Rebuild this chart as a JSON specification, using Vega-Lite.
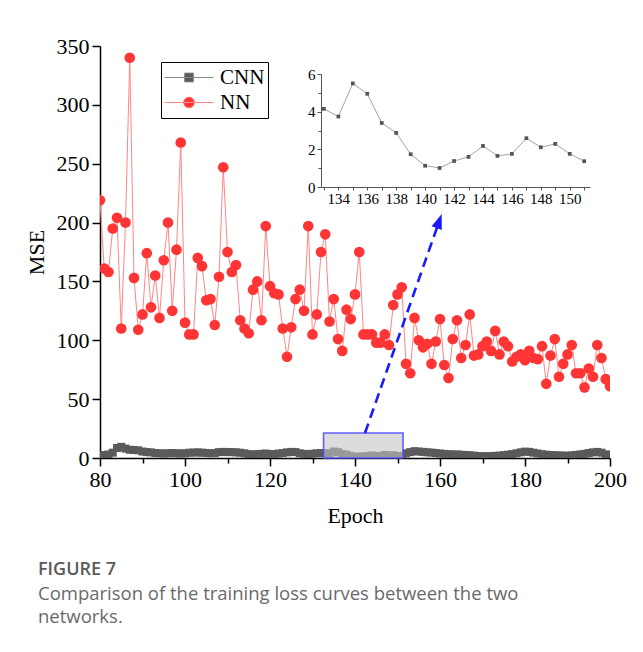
{
  "$schema": "https://vega.github.io/schema/vega-lite/v6.json",
  "width": 510,
  "height": 412,
  "autosize": {"type": "none"},
  "padding": {"left": 100, "top": 46, "right": 33, "bottom": 194},
  "background": "white",
  "config": {
    "view": {"stroke": null},
    "font": "Liberation Serif",
    "axis": {
      "grid": false,
      "domainColor": "black",
      "domainWidth": 1.5,
      "tickColor": "black",
      "tickWidth": 1.5,
      "labelFont": "Liberation Serif",
      "labelColor": "black",
      "labelFlush": false,
      "labelOverlap": false,
      "titleFont": "Liberation Serif",
      "titleFontWeight": "normal",
      "titleColor": "black",
      "zindex": 1
    }
  },
  "title": {
    "text": "FIGURE 7",
    "subtitle": ["Comparison of the training loss curves between the two", "networks."],
    "orient": "bottom",
    "anchor": "start",
    "frame": "group",
    "dx": -62,
    "offset": 35,
    "font": "Open Sans",
    "fontSize": 18,
    "fontWeight": 600,
    "color": "#5a5a5a",
    "subtitleFont": "Open Sans",
    "subtitleFontSize": 18.5,
    "subtitleFontWeight": "normal",
    "subtitleColor": "#6a6a6a",
    "subtitleLineHeight": 23,
    "subtitlePadding": 6
  },
  "datasets": {
    "loss": [
      {"epoch": 80, "NN": 219, "CNN": 2.0},
      {"epoch": 81, "NN": 161, "CNN": 2.5},
      {"epoch": 82, "NN": 158, "CNN": 3.0},
      {"epoch": 83, "NN": 195, "CNN": 4.5},
      {"epoch": 84, "NN": 204, "CNN": 8.5},
      {"epoch": 85, "NN": 110, "CNN": 9.5},
      {"epoch": 86, "NN": 200, "CNN": 8.0},
      {"epoch": 87, "NN": 340, "CNN": 7.0},
      {"epoch": 88, "NN": 153, "CNN": 6.8},
      {"epoch": 89, "NN": 109, "CNN": 6.5},
      {"epoch": 90, "NN": 122, "CNN": 5.5},
      {"epoch": 91, "NN": 174, "CNN": 5.0},
      {"epoch": 92, "NN": 128, "CNN": 4.8},
      {"epoch": 93, "NN": 155, "CNN": 4.2},
      {"epoch": 94, "NN": 119, "CNN": 4.0},
      {"epoch": 95, "NN": 168, "CNN": 3.8},
      {"epoch": 96, "NN": 200, "CNN": 4.0},
      {"epoch": 97, "NN": 125, "CNN": 4.2},
      {"epoch": 98, "NN": 177, "CNN": 4.0},
      {"epoch": 99, "NN": 268, "CNN": 3.8},
      {"epoch": 100, "NN": 115, "CNN": 4.0},
      {"epoch": 101, "NN": 105, "CNN": 4.5},
      {"epoch": 102, "NN": 105, "CNN": 4.6},
      {"epoch": 103, "NN": 170, "CNN": 4.8},
      {"epoch": 104, "NN": 163, "CNN": 4.5},
      {"epoch": 105, "NN": 134, "CNN": 4.3},
      {"epoch": 106, "NN": 135, "CNN": 4.0},
      {"epoch": 107, "NN": 113, "CNN": 4.2},
      {"epoch": 108, "NN": 154, "CNN": 5.0},
      {"epoch": 109, "NN": 247, "CNN": 5.2},
      {"epoch": 110, "NN": 175, "CNN": 5.0},
      {"epoch": 111, "NN": 158, "CNN": 5.0},
      {"epoch": 112, "NN": 164, "CNN": 4.8},
      {"epoch": 113, "NN": 117, "CNN": 4.5},
      {"epoch": 114, "NN": 110, "CNN": 4.0},
      {"epoch": 115, "NN": 106, "CNN": 3.2},
      {"epoch": 116, "NN": 143, "CNN": 3.0},
      {"epoch": 117, "NN": 150, "CNN": 3.3},
      {"epoch": 118, "NN": 117, "CNN": 3.5},
      {"epoch": 119, "NN": 197, "CNN": 3.8},
      {"epoch": 120, "NN": 146, "CNN": 3.4},
      {"epoch": 121, "NN": 140, "CNN": 3.2},
      {"epoch": 122, "NN": 139, "CNN": 3.8},
      {"epoch": 123, "NN": 110, "CNN": 4.2},
      {"epoch": 124, "NN": 86, "CNN": 4.8},
      {"epoch": 125, "NN": 111, "CNN": 5.2},
      {"epoch": 126, "NN": 135, "CNN": 5.0},
      {"epoch": 127, "NN": 143, "CNN": 4.0},
      {"epoch": 128, "NN": 125, "CNN": 3.5},
      {"epoch": 129, "NN": 197, "CNN": 3.3},
      {"epoch": 130, "NN": 105, "CNN": 3.6},
      {"epoch": 131, "NN": 122, "CNN": 4.0},
      {"epoch": 132, "NN": 175, "CNN": 4.2},
      {"epoch": 133, "NN": 190, "CNN": 4.15},
      {"epoch": 134, "NN": 116, "CNN": 3.74},
      {"epoch": 135, "NN": 135, "CNN": 5.5},
      {"epoch": 136, "NN": 101, "CNN": 4.95},
      {"epoch": 137, "NN": 91, "CNN": 3.4},
      {"epoch": 138, "NN": 126, "CNN": 2.87},
      {"epoch": 139, "NN": 118, "CNN": 1.74},
      {"epoch": 140, "NN": 139, "CNN": 1.13},
      {"epoch": 141, "NN": 175, "CNN": 1.01},
      {"epoch": 142, "NN": 105, "CNN": 1.38},
      {"epoch": 143, "NN": 105, "CNN": 1.6},
      {"epoch": 144, "NN": 105, "CNN": 2.18},
      {"epoch": 145, "NN": 98, "CNN": 1.65},
      {"epoch": 146, "NN": 98, "CNN": 1.76},
      {"epoch": 147, "NN": 105, "CNN": 2.59},
      {"epoch": 148, "NN": 96, "CNN": 2.11},
      {"epoch": 149, "NN": 130, "CNN": 2.29},
      {"epoch": 150, "NN": 139, "CNN": 1.76},
      {"epoch": 151, "NN": 145, "CNN": 1.37},
      {"epoch": 152, "NN": 80, "CNN": 4.0},
      {"epoch": 153, "NN": 72, "CNN": 5.0},
      {"epoch": 154, "NN": 119, "CNN": 5.8},
      {"epoch": 155, "NN": 100, "CNN": 5.5},
      {"epoch": 156, "NN": 94, "CNN": 5.2},
      {"epoch": 157, "NN": 97, "CNN": 4.8},
      {"epoch": 158, "NN": 80, "CNN": 4.6},
      {"epoch": 159, "NN": 99, "CNN": 4.2},
      {"epoch": 160, "NN": 118, "CNN": 3.8},
      {"epoch": 161, "NN": 79, "CNN": 3.5},
      {"epoch": 162, "NN": 68, "CNN": 3.2},
      {"epoch": 163, "NN": 101, "CNN": 3.0},
      {"epoch": 164, "NN": 117, "CNN": 3.0},
      {"epoch": 165, "NN": 85, "CNN": 2.8},
      {"epoch": 166, "NN": 96, "CNN": 2.5},
      {"epoch": 167, "NN": 122, "CNN": 2.3},
      {"epoch": 168, "NN": 87, "CNN": 2.0},
      {"epoch": 169, "NN": 88, "CNN": 1.6},
      {"epoch": 170, "NN": 95, "CNN": 1.5},
      {"epoch": 171, "NN": 99, "CNN": 1.4},
      {"epoch": 172, "NN": 91, "CNN": 1.6},
      {"epoch": 173, "NN": 108, "CNN": 1.8},
      {"epoch": 174, "NN": 88, "CNN": 2.0},
      {"epoch": 175, "NN": 99, "CNN": 2.4},
      {"epoch": 176, "NN": 95, "CNN": 2.8},
      {"epoch": 177, "NN": 82, "CNN": 3.3},
      {"epoch": 178, "NN": 86, "CNN": 4.0},
      {"epoch": 179, "NN": 88, "CNN": 4.8},
      {"epoch": 180, "NN": 83, "CNN": 5.4},
      {"epoch": 181, "NN": 91, "CNN": 5.2},
      {"epoch": 182, "NN": 85, "CNN": 4.5},
      {"epoch": 183, "NN": 84, "CNN": 3.8},
      {"epoch": 184, "NN": 95, "CNN": 3.2},
      {"epoch": 185, "NN": 63, "CNN": 2.8},
      {"epoch": 186, "NN": 87, "CNN": 2.5},
      {"epoch": 187, "NN": 101, "CNN": 2.3},
      {"epoch": 188, "NN": 69, "CNN": 2.2},
      {"epoch": 189, "NN": 80, "CNN": 2.0},
      {"epoch": 190, "NN": 88, "CNN": 2.0},
      {"epoch": 191, "NN": 96, "CNN": 2.2},
      {"epoch": 192, "NN": 72, "CNN": 2.6},
      {"epoch": 193, "NN": 72, "CNN": 3.0},
      {"epoch": 194, "NN": 60, "CNN": 3.5},
      {"epoch": 195, "NN": 76, "CNN": 4.2},
      {"epoch": 196, "NN": 69, "CNN": 4.8},
      {"epoch": 197, "NN": 96, "CNN": 5.2},
      {"epoch": 198, "NN": 85, "CNN": 4.5},
      {"epoch": 199, "NN": 67, "CNN": 3.0},
      {"epoch": 200, "NN": 61, "CNN": 2.8}
    ],
    "zoomWindow": [
      {"start": 132.6, "end": 151.3, "low": 0, "high": 21.2}
    ],
    "pointer": [
      {"fromEpoch": 142.35, "fromMse": 21.2, "toEpoch": 159.39, "toMse": 196.8, "headEpoch": 159.81, "headMse": 201.3}
    ]
  },
  "data": {"name": "loss"},
  "layer": [
    {
      "layer": [
        {
          "mark": {"type": "line", "color": "#ff8585", "strokeWidth": 1, "clip": true},
          "encoding": {
            "x": {
              "field": "epoch", "type": "quantitative",
              "scale": {"domain": [80, 200], "nice": false, "zero": false},
              "axis": {
                "title": "Epoch",
                "values": [80, 90, 100, 110, 120, 130, 140, 150, 160, 170, 180, 190, 200],
                "labelExpr": "datum.value % 20 === 0 ? datum.label : ''",
                "tickSize": {"condition": {"test": "datum.value % 20 === 0", "value": 8}, "value": 5},
                "labelFontSize": 22,
                "labelPadding": 3,
                "titleFontSize": 22,
                "titlePadding": 15
              }
            },
            "y": {
              "field": "NN", "type": "quantitative",
              "scale": {"domain": [0, 350], "nice": false},
              "axis": {
                "title": "MSE",
                "values": [0, 25, 50, 75, 100, 125, 150, 175, 200, 225, 250, 275, 300, 325, 350],
                "labelExpr": "datum.value % 50 === 0 ? datum.label : ''",
                "tickSize": {"condition": {"test": "datum.value % 50 === 0", "value": 8}, "value": 5},
                "labelFontSize": 22,
                "labelPadding": 3,
                "titleFontSize": 22,
                "titlePadding": 8
              }
            }
          }
        },
        {
          "mark": {"type": "point", "shape": "circle", "filled": true, "color": "#ff3535", "opacity": 1, "size": 113, "clip": true},
          "encoding": {
            "x": {"field": "epoch", "type": "quantitative"},
            "y": {"field": "NN", "type": "quantitative"}
          }
        },
        {
          "mark": {"type": "point", "shape": "square", "filled": true, "color": "#5a5a5a", "opacity": 1, "size": 64, "clip": true},
          "encoding": {
            "x": {"field": "epoch", "type": "quantitative"},
            "y": {"field": "CNN", "type": "quantitative"}
          }
        },
        {
          "data": {"name": "zoomWindow"},
          "mark": {"type": "rect", "fill": "#c4c4c4", "fillOpacity": 0.6, "stroke": "#4f4fff", "strokeWidth": 1.6, "strokeOpacity": 0.9},
          "encoding": {
            "x": {"field": "start", "type": "quantitative"},
            "x2": {"field": "end"},
            "y": {"field": "low", "type": "quantitative"},
            "y2": {"field": "high"}
          }
        },
        {
          "data": {"name": "pointer"},
          "mark": {"type": "rule", "color": "#1a1aff", "strokeWidth": 2.6, "strokeDash": [10, 6]},
          "encoding": {
            "x": {"field": "fromEpoch", "type": "quantitative"},
            "y": {"field": "fromMse", "type": "quantitative"},
            "x2": {"field": "toEpoch"},
            "y2": {"field": "toMse"}
          }
        },
        {
          "data": {"name": "pointer"},
          "mark": {"type": "point", "shape": "M0,-1L0.72,1L-0.72,1Z", "filled": true, "color": "#1a1aff", "opacity": 1, "size": 225, "angle": 19.3},
          "encoding": {
            "x": {"field": "headEpoch", "type": "quantitative"},
            "y": {"field": "headMse", "type": "quantitative"}
          }
        },
        {
          "transform": [
            {"filter": "datum.epoch < 0"},
            {"fold": ["CNN", "NN"], "as": ["series", "mse"]}
          ],
          "mark": {"type": "point", "filled": true},
          "encoding": {
            "fill": {
              "field": "series", "type": "nominal",
              "scale": {"domain": ["CNN", "NN"], "range": ["#5a5a5a", "#ff3535"]},
              "legend": {"orient": "none", "legendX": 61, "legendY": 16, "title": null, "strokeColor": "black", "fillColor": "white", "padding": 3, "symbolSize": 2401, "symbolStrokeWidth": 1, "symbolOpacity": 1, "clipHeight": 25, "rowPadding": 0, "labelFont": "Liberation Serif", "labelFontSize": 21, "labelColor": "black", "labelOffset": 6}
            },
            "stroke": {
              "field": "series", "type": "nominal",
              "scale": {"domain": ["CNN", "NN"], "range": ["#8a8a8a", "#ff8585"]},
              "legend": {"orient": "none", "legendX": 61, "legendY": 16, "title": null, "strokeColor": "black", "fillColor": "white", "padding": 3, "symbolSize": 2401, "symbolStrokeWidth": 1, "symbolOpacity": 1, "clipHeight": 25, "rowPadding": 0, "labelFont": "Liberation Serif", "labelFontSize": 21, "labelColor": "black", "labelOffset": 6}
            },
            "shape": {
              "field": "series", "type": "nominal",
              "scale": {"domain": ["CNN", "NN"], "range": ["M-1,0H1M-0.18,-0.18H0.18V0.18H-0.18Z", "M-1,0H1M0.22,0A0.22,0.22,0,1,1,-0.22,0A0.22,0.22,0,1,1,0.22,0Z"]},
              "legend": {"orient": "none", "legendX": 61, "legendY": 16, "title": null, "strokeColor": "black", "fillColor": "white", "padding": 3, "symbolSize": 2401, "symbolStrokeWidth": 1, "symbolOpacity": 1, "clipHeight": 25, "rowPadding": 0, "labelFont": "Liberation Serif", "labelFontSize": 21, "labelColor": "black", "labelOffset": 6}
            }
          }
        }
      ]
    },
    {
      "transform": [{"filter": "datum.epoch >= 133 && datum.epoch <= 151"}],
      "encoding": {
        "x": {
          "field": "epoch", "type": "quantitative",
          "scale": {"domain": [132.8, 151.4], "range": [221, 490], "nice": false, "zero": false},
          "axis": {
            "orient": "bottom",
            "offset": -271,
            "title": null,
            "values": [133, 134, 135, 136, 137, 138, 139, 140, 141, 142, 143, 144, 145, 146, 147, 148, 149, 150, 151],
            "labelExpr": "datum.value % 2 === 0 ? datum.label : ''",
            "tickSize": 3,
            "domainColor": "#555555",
            "tickColor": "#555555",
            "domainWidth": 1,
            "tickWidth": 1,
            "labelFontSize": 15,
            "labelPadding": 1
          }
        },
        "y": {
          "field": "CNN", "type": "quantitative",
          "scale": {"domain": [0, 6], "range": [141, 28], "nice": false, "zero": false},
          "axis": {
            "orient": "left",
            "offset": -221,
            "title": null,
            "values": [0, 1, 2, 3, 4, 5, 6],
            "labelExpr": "datum.value % 2 === 0 ? datum.label : ''",
            "tickSize": {"condition": {"test": "datum.value % 2 === 0", "value": 4}, "value": 3},
            "domainColor": "#555555",
            "tickColor": "#555555",
            "domainWidth": 1,
            "tickWidth": 1,
            "labelFontSize": 15,
            "labelPadding": 2
          }
        }
      },
      "layer": [
        {"mark": {"type": "line", "color": "#a3a3a3", "strokeWidth": 1}},
        {"mark": {"type": "point", "shape": "square", "filled": true, "color": "#555555", "opacity": 1, "size": 14}}
      ]
    }
  ],
  "resolve": {
    "scale": {"x": "independent", "y": "independent"},
    "axis": {"x": "independent", "y": "independent"}
  }
}
